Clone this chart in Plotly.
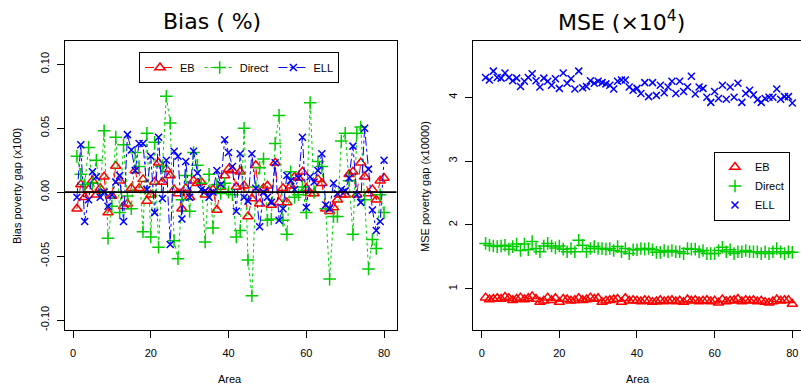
import plotly.graph_objects as go

areas = list(range(1, 81))

# Left panel: Bias (%)
bias_eb = [-0.013, 0.006, -0.004, 0.002, 0.009, -0.002, 0.003, 0.012, -0.016, -0.003,
           0.0205, 0.009, -0.011, -0.009, 0.003, 0.017, 0.003, 0.010, -0.007, -0.002,
           0.008, 0.023, 0.008, 0.018, 0.013, 0.002, -0.001, -0.013, 0.003, -0.004,
           0.009, 0.007, 0.008, -0.002, 0.001, 0.002, -0.014, 0.004, 0.013, 0.018,
           0.017, 0.004, 0.016, 0.005, -0.019, -0.005, 0.021, -0.009, 0.003, 0.005,
           -0.010, 0.023, -0.008, 0.003, -0.008, 0.005, 0.012, 0.011, 0.016, 0.003,
           -0.001, -0.001, 0.010, 0.007, -0.013, -0.015, -0.012, -0.006, -0.002, -0.002,
           0.014, 0.016, -0.002, 0.023, 0.012, -0.001, 0.002, -0.006, 0.009, 0.011]
bias_direct = [0.028, 0.014, 0.006, 0.035, 0.007, 0.025, 0.000, 0.048, -0.036, -0.011,
               0.043, -0.016, 0.037, -0.003, -0.013, 0.031, 0.020, -0.031, 0.046, -0.035,
               0.039, -0.043, 0.020, 0.075, 0.054, -0.038, -0.052, -0.006, 0.013, -0.015,
               0.031, 0.021, 0.007, -0.039, 0.014, -0.028, 0.006, -0.001, 0.007, 0.000,
               -0.002, -0.035, -0.030, 0.050, -0.053, -0.081, 0.004, 0.019, 0.026, -0.022,
               -0.021, 0.038, 0.060, -0.022, -0.033, 0.016, -0.004, -0.002, 0.004, -0.016,
               0.070, 0.000, 0.024, 0.020, -0.013, -0.068, -0.019, -0.019, 0.040, 0.046,
               0.009, -0.033, 0.046, 0.051, -0.006, -0.060, -0.037, -0.044, -0.002, -0.016]
bias_ell = [-0.004, 0.037, -0.023, -0.006, 0.016, 0.012, -0.004, 0.000, -0.011, -0.002,
            0.008, 0.013, -0.023, 0.045, 0.033, 0.017, 0.038, 0.038, 0.002, 0.028,
            -0.016, 0.043, -0.005, 0.025, -0.041, 0.032, 0.028, -0.021, 0.024, -0.004,
            0.032, 0.015, 0.002, 0.001, -0.004, 0.000, 0.017, 0.006, 0.041, 0.031,
            0.020, -0.015, 0.030, -0.004, -0.007, 0.030, 0.003, -0.027, 0.000, -0.004,
            -0.008, 0.023, -0.022, -0.013, 0.013, 0.009, 0.002, 0.011, 0.043, -0.012,
            0.012, 0.008, 0.017, 0.030, -0.010, -0.013, 0.007, -0.001, 0.002, 0.001,
            0.011, 0.036, -0.002, -0.008, 0.050, 0.018, -0.014, -0.030, -0.023, 0.025]

# Right panel: MSE (x10^4)
mse_eb = [0.86, 0.83, 0.84, 0.85, 0.84, 0.87, 0.85, 0.82, 0.84, 0.86,
          0.83, 0.85, 0.88, 0.84, 0.79, 0.81, 0.86, 0.82, 0.85, 0.79,
          0.84, 0.83, 0.81, 0.82, 0.85, 0.82, 0.83, 0.86, 0.84, 0.85,
          0.79, 0.81, 0.82, 0.83, 0.84, 0.79, 0.85, 0.81, 0.82, 0.81,
          0.80, 0.82, 0.81, 0.79, 0.80, 0.82, 0.80, 0.81, 0.82, 0.80,
          0.81, 0.79, 0.83, 0.81, 0.82, 0.80, 0.81, 0.82, 0.80, 0.81,
          0.78, 0.83, 0.80, 0.81, 0.82, 0.84, 0.80, 0.82, 0.81, 0.82,
          0.80, 0.81, 0.79, 0.78, 0.80, 0.83, 0.81, 0.82, 0.82, 0.76]
mse_direct = [1.71, 1.68, 1.67, 1.66, 1.67, 1.68, 1.62, 1.66, 1.70, 1.60,
              1.70, 1.61, 1.74, 1.63, 1.58, 1.67, 1.71, 1.67, 1.64, 1.67,
              1.62, 1.58, 1.63, 1.58, 1.76, 1.68, 1.58, 1.63, 1.66, 1.63,
              1.63, 1.62, 1.63, 1.60, 1.66, 1.58, 1.63, 1.55, 1.61, 1.61,
              1.63, 1.62, 1.63, 1.61, 1.57, 1.57, 1.60, 1.58, 1.60, 1.58,
              1.58, 1.55, 1.63, 1.62, 1.62, 1.58, 1.60, 1.55, 1.55, 1.55,
              1.60, 1.65, 1.58, 1.61, 1.55, 1.58, 1.58, 1.60, 1.58, 1.58,
              1.58, 1.55, 1.58, 1.55, 1.58, 1.63, 1.58, 1.55, 1.58, 1.57]
mse_ell = [4.31, 4.27, 4.41, 4.31, 4.30, 4.38, 4.31, 4.26, 4.30, 4.17,
           4.25, 4.31, 4.37, 4.26, 4.16, 4.30, 4.25, 4.19, 4.29, 4.14,
           4.38, 4.22, 4.29, 4.13, 4.41, 4.15, 4.17, 4.26, 4.22, 4.25,
           4.23, 4.21, 4.19, 4.13, 4.25, 4.27, 4.27, 4.16, 4.11, 4.14,
           4.06, 4.23, 4.01, 4.23, 4.03, 4.19, 4.07, 4.16, 4.25, 4.06,
           4.25, 4.09, 4.16, 4.33, 4.05, 4.16, 4.14, 4.00, 3.92, 4.09,
           3.98, 4.19, 3.97, 4.16, 4.00, 4.22, 3.92, 4.06, 4.11, 4.04,
           3.96, 3.92, 3.98, 4.00, 4.00, 4.13, 3.97, 4.01, 4.01, 3.91]

series_names = ["EB", "Direct", "ELL"]
x_ticks = [0, 20, 40, 60, 80]
bias_ticks = [-0.10, -0.05, 0.00, 0.05, 0.10]
bias_ticktext = ["-0.10", "-0.05", "0.00", "0.05", "0.10"]
mse_ticks = [1, 2, 3, 4]

RED = "#FF0000"
GREEN = "#00CD00"
BLUE = "#0000FF"
FONT = "Liberation Sans, Arial, sans-serif"

W, H = 801, 385

styles = [
    dict(color=RED, symbol="triangle-up-open", size=9, dash="dash"),
    dict(color=GREEN, symbol="cross-thin-open", size=9, dash="dot"),
    dict(color=BLUE, symbol="x-thin-open", size=7, dash="dashdot"),
]

fig = go.Figure()

for name, vals, st in zip(series_names, [bias_eb, bias_direct, bias_ell], styles):
    fig.add_trace(go.Scatter(
        x=areas, y=vals, name=name, mode="lines+markers",
        line=dict(color=st["color"], width=1, dash=st["dash"]),
        marker=dict(symbol=st["symbol"], size=st["size"], color=st["color"],
                    line=dict(color=st["color"], width=1.5)),
        xaxis="x", yaxis="y", legend="legend",
    ))

for name, vals, st in zip(series_names, [mse_eb, mse_direct, mse_ell], styles):
    fig.add_trace(go.Scatter(
        x=areas, y=vals, name=name, mode="markers",
        marker=dict(symbol=st["symbol"], size=st["size"], color=st["color"],
                    line=dict(color=st["color"], width=1.5)),
        xaxis="x2", yaxis="y2", legend="legend2",
    ))


def px_x(p):
    return p / W


def px_y(p):
    return 1 - p / H


axis_common = dict(showgrid=False, zeroline=False, showline=True, linecolor="black",
                   linewidth=1, ticks="outside", ticklen=7, tickcolor="black",
                   automargin=False, ticklabeloverflow="allow",
                   tickfont=dict(family=FONT, size=11, color="black"))

fig.update_layout(
    width=W, height=H,
    margin=dict(l=0, r=0, t=0, b=0, autoexpand=False),
    paper_bgcolor="white", plot_bgcolor="white",
    font=dict(family=FONT, size=11, color="black"),
    hovermode=False,
    xaxis=dict(domain=[px_x(65), px_x(396.5)], range=[-2.06, 83.2], tickvals=x_ticks,
               mirror=True, anchor="y", ticklabelstandoff=6, **axis_common),
    yaxis=dict(domain=[px_y(330), px_y(41)], range=[-0.1078, 0.1182], tickvals=bias_ticks,
               ticktext=bias_ticktext, tickangle=-90, mirror=True, anchor="x",
               ticklabelstandoff=4, **axis_common),
    xaxis2=dict(domain=[px_x(473.3), 1.0], range=[-2.16, 82.24], tickvals=x_ticks,
                mirror=True, anchor="y2", ticklabelstandoff=6, **axis_common),
    yaxis2=dict(domain=[px_y(330), px_y(41)], range=[0.353, 4.882], tickvals=mse_ticks,
                tickangle=-90, mirror=False, anchor="x2", ticklabelstandoff=4, **axis_common),
    legend=dict(orientation="h", x=px_x(139), y=px_y(52), xanchor="left", yanchor="top",
                bgcolor="white", bordercolor="black", borderwidth=1, itemwidth=30,
                font=dict(family=FONT, size=11, color="black"), tracegroupgap=0),
    legend2=dict(orientation="v", x=px_x(714), y=px_y(186), xanchor="left", yanchor="middle",
                 bgcolor="white", bordercolor="black", borderwidth=1, itemwidth=30,
                 font=dict(family=FONT, size=11, color="black"), tracegroupgap=0),
    showlegend=True,
)

# zero reference line in left panel
fig.add_shape(type="line", xref="x domain", yref="y", x0=0, x1=1, y0=0, y1=0,
              line=dict(color="black", width=1.6))

ann = [
    dict(text="Bias ( %)", x=px_x(212), y=px_y(21), font=dict(family="DejaVu Sans", size=22)),
    dict(text="MSE (×10<sup>4</sup>)", x=px_x(621), y=px_y(21), font=dict(family="DejaVu Sans", size=22)),
    dict(text="Area", x=px_x(230), y=px_y(379), font=dict(family=FONT, size=11)),
    dict(text="Area", x=px_x(638), y=px_y(379), font=dict(family=FONT, size=11)),
    dict(text="Bias poverty gap (x100)", x=px_x(17), y=px_y(186), textangle=-90,
         font=dict(family=FONT, size=11)),
    dict(text="MSE poverty gap (x10000)", x=px_x(425), y=px_y(186), textangle=-90,
         font=dict(family=FONT, size=11)),
]
for a in ann:
    fig.add_annotation(xref="paper", yref="paper", xanchor="center", yanchor="middle",
                       showarrow=False, **a)

# remove the default page margin so the figure sits at the window's corner
fig.write_html("out.html",
               config={"displayModeBar": False, "staticPlot": True},
               post_script="document.body.style.margin='0';document.body.style.overflow='hidden';")
